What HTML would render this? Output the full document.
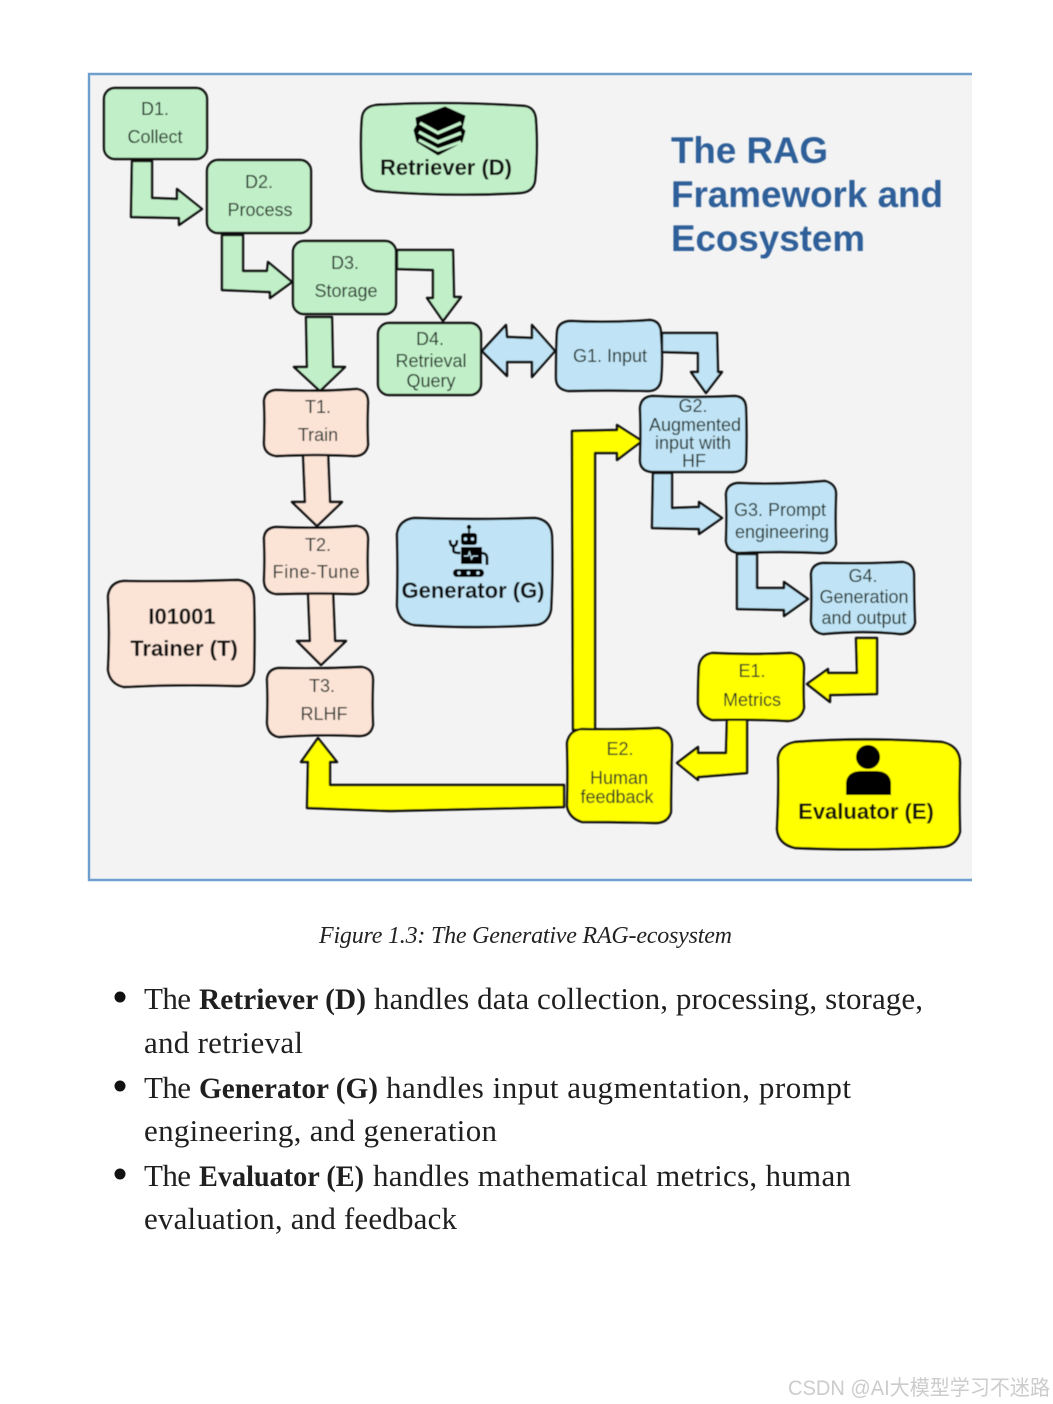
<!DOCTYPE html>
<html><head><meta charset="utf-8"><style>
html,body{margin:0;padding:0;background:#fff;width:1053px;height:1404px;overflow:hidden}
svg{display:block}
.s{font-family:"Liberation Sans",sans-serif;fill:#1c2a24;font-size:18px;text-anchor:middle}
.b{font-family:"Liberation Sans",sans-serif;fill:#0a0a0a;font-size:22px;font-weight:bold;text-anchor:middle}
.t{font-family:"Liberation Sans",sans-serif;fill:#2e5f99;font-size:37px;font-weight:bold}
.p{font-family:"Liberation Serif",serif;fill:#1f1f1f;font-size:31px}
.pb{font-family:"Liberation Serif",serif;fill:#1f1f1f;font-size:30px;font-weight:bold}
.g{fill:#c1f0c8;stroke:#111;stroke-width:2.4;stroke-linejoin:round}
.u{fill:#c0e4f5;stroke:#111;stroke-width:2.4;stroke-linejoin:round}
.r{fill:#fbe3d6;stroke:#111;stroke-width:2.4;stroke-linejoin:round}
.y{fill:#ffff00;stroke:#111;stroke-width:2.4;stroke-linejoin:round}
</style></head><body>
<svg width="1053" height="1404" viewBox="0 0 1053 1404" xmlns="http://www.w3.org/2000/svg">
<defs><filter id="f" x="-2%" y="-2%" width="104%" height="104%"><feGaussianBlur stdDeviation="0.4"/></filter></defs>
<rect x="89" y="74" width="883" height="806" fill="#f3f3f3"/>
<path d="M972 74H89V880H972" fill="none" stroke="#6f9fcc" stroke-width="2.4"/>
<g filter="url(#f)">
<!-- arrows -->
<polygon class="g" points="132,161 152,161 152,198 177,199 177,189 202,209 179,225 179,218 131,217"/>
<polygon class="g" points="222,235 243,235 243,271 267,271 268,262 292,282 270,298 270,292 222,290"/>
<polygon class="g" points="397,250 453,250 454,297 461,297 443,321 427,298 433,298 433,270 397,269"/>
<polygon class="g" points="306,317 332,317 333,367 345,367 320,391 294,367 307,367"/>
<polygon class="u" points="482,351 506,325 507,337 532,338 532,325 555,351 532,377 532,362 507,362 507,376"/>
<polygon class="u" points="662,333 717,333 718,372 722,372 706,393 691,372 698,372 698,353 662,352"/>
<polygon class="u" points="653,473 672,473 672,508 699,507 699,502 722,518 699,534 699,529 652,528"/>
<polygon class="u" points="737,554 757,554 757,588 784,588 784,582 808,599 784,616 784,610 737,609"/>
<polygon class="r" points="303,453 328,453 330,502 342,502 317,526 292,502 305,502"/>
<polygon class="r" points="308,592 333,591 335,641 346,641 321,665 297,641 310,641"/>
<polygon class="y" points="572,431 617,430 617,425 642,441 617,460 617,453 595,453 595,730 573,730"/>
<polygon class="y" points="318,738 337,762 330,762 330,785 564,785 564,807 390,811 307,808 308,762 301,762"/>
<polygon class="y" points="856,638 877,638 877,694 830,695 830,702 807,684 828,669 828,673 857,673"/>
<polygon class="y" points="727,718 747,718 747,773 698,777 698,780 677,763 698,747 698,753 726,753"/>

<!-- D boxes -->
<rect class="g" x="104" y="88" width="103" height="71" rx="11"/>
<rect class="g" x="207" y="160" width="104" height="73" rx="11"/>
<rect class="g" x="293" y="241" width="103" height="73" rx="11"/>
<rect class="g" x="378" y="323" width="103" height="72" rx="11"/>
<path class="g" d="M376 105Q450 101 525 106Q536 108 536 122Q538 150 535 181Q533 192 520 193Q450 197 376 191Q362 188 362 175Q360 140 362 118Q363 107 376 105Z"/>

<!-- G boxes -->
<path class="u" d="M570 321Q610 323 650 320Q661 321 661 334Q663 360 661 380Q659 391 648 391Q610 390 568 391Q556 389 556 378Q556 350 557 332Q558 322 570 321Z"/>
<path class="u" d="M652 396Q695 398 735 396Q746 397 746 409Q747 435 746 462Q744 472 732 472H652Q640 471 640 460Q641 430 640 408Q641 397 652 396Z"/>
<path class="u" d="M738 483Q780 485 825 481Q836 484 836 494Q835 520 836 544Q833 553 822 553Q780 551 738 553Q727 551 726 541Q727 515 726 494Q727 484 738 483Z"/>
<path class="u" d="M823 563Q865 564 903 562Q914 564 914 575Q914 600 915 623Q912 634 900 634Q865 630 823 634Q812 632 811 621Q812 595 811 574Q812 564 823 563Z"/>

<!-- T boxes -->
<path class="r" d="M276 390Q318 392 357 389Q368 391 368 402Q367 425 368 445Q366 456 354 456Q318 454 276 456Q264 454 264 443Q265 420 264 401Q265 391 276 390Z"/>
<path class="r" d="M276 527Q318 529 357 526Q368 528 368 539Q367 560 368 584Q366 594 354 594Q318 593 276 594Q264 592 264 580Q265 560 264 538Q265 528 276 527Z"/>
<path class="r" d="M279 668Q320 669 362 667Q373 669 373 680Q372 705 373 725Q371 736 359 736Q320 734 279 737Q268 735 267 723Q268 700 267 679Q268 669 279 668Z"/>
<path class="r" d="M124 581Q180 582 238 580Q253 582 254 598Q255 635 254 672Q251 686 238 686Q180 684 124 687Q110 684 108 670Q110 635 108 596Q110 582 124 581Z"/>
<path class="u" d="M414 518Q475 520 535 518Q551 520 552 536Q553 575 551 610Q548 624 535 625Q475 629 414 625Q399 622 397 606Q398 570 397 534Q399 520 414 518Z"/>

<!-- E boxes -->
<path class="y" d="M712 653Q750 655 791 653Q804 655 804 668Q803 690 804 708Q801 720 788 721Q750 719 712 720Q700 716 698 704Q698 680 699 666Q701 655 712 653Z"/>
<path class="y" d="M581 729Q620 730 659 728Q672 732 672 745Q671 780 671 812Q668 823 655 823Q620 822 582 822Q569 818 567 806Q568 775 567 743Q569 731 581 729Z"/>
<path class="y" d="M795 742Q865 737 942 742Q960 746 960 763Q959 795 960 832Q956 846 942 847Q865 851 795 848Q778 844 777 829Q779 790 778 758Q780 745 795 742Z"/>

<!-- Books icon -->
<polygon points="416,118 445,107 465,116 462,128 465,131 462,142 438,155 417,142 414,130 417,125" fill="#000" stroke="#000" stroke-width="1" stroke-linejoin="round"/>
<g fill="none" stroke="#c1f0c8" stroke-width="3.2">
<polyline points="420,123 438,133 461,123"/>
<polyline points="419,132 438,142 461,133"/>
<polyline points="419,140 438,150 461,142"/>
</g>

<!-- Robot icon -->
<g fill="#000">
<circle cx="469" cy="527" r="2.200"/><rect x="468" y="528" width="2" height="6"/>
<rect x="461" y="533" width="16" height="12" rx="3"/>
<rect x="461" y="547" width="21" height="17"/>
<rect x="453" y="569" width="31" height="8" rx="4"/>
</g>
<circle cx="465.500" cy="539" r="1.700" fill="#c0e4f5"/><circle cx="472.500" cy="539" r="1.700" fill="#c0e4f5"/>
<circle cx="459" cy="573" r="1.700" fill="#c0e4f5"/><circle cx="468.500" cy="573" r="1.700" fill="#c0e4f5"/><circle cx="478" cy="573" r="1.700" fill="#c0e4f5"/>
<path d="M464 556h4l1.500-4 2 7 1.500-3h5" fill="none" stroke="#c0e4f5" stroke-width="1.100"/>
<path d="M450 540q0 6 3.500 6v5q0 2 7 2M457 540q0 6-3.500 6M487 565v-7q0-5-6-5" fill="none" stroke="#000" stroke-width="2.600"/>

<!-- Person -->
<circle cx="868" cy="757" r="12" fill="#000"/>
<path d="M846 795V783Q847 771 862 771H875Q890 771 891 783V795Z" fill="#000"/>

<!-- Labels -->
<text class="s" x="155" y="115">D1.</text><text class="s" x="155" y="143">Collect</text>
<text class="s" x="259" y="188">D2.</text><text class="s" x="260" y="216">Process</text>
<text class="s" x="345" y="269">D3.</text><text class="s" x="346" y="297">Storage</text>
<text class="s" x="430" y="345">D4.</text><text class="s" x="431" y="367">Retrieval</text><text class="s" x="431" y="387">Query</text>
<text class="s" x="318" y="413">T1.</text><text class="s" x="318" y="441">Train</text>
<text class="s" x="318" y="551">T2.</text><text class="s" x="316" y="578" textLength="87" lengthAdjust="spacing">Fine-Tune</text>
<text class="s" x="322" y="692">T3.</text><text class="s" x="324" y="720">RLHF</text>
<text class="s" x="610" y="362">G1. Input</text>
<text class="s" x="693" y="412">G2.</text><text class="s" x="695" y="431">Augmented</text><text class="s" x="693" y="449">input with</text><text class="s" x="694" y="467">HF</text>
<text class="s" x="780" y="516">G3. Prompt</text><text class="s" x="782" y="538">engineering</text>
<text class="s" x="863" y="582">G4.</text><text class="s" x="864" y="603">Generation</text><text class="s" x="864" y="624">and output</text>
<text class="s" x="752" y="677">E1.</text><text class="s" x="752" y="706">Metrics</text>
<text class="s" x="620" y="755">E2.</text><text class="s" x="619" y="784">Human</text><text class="s" x="617" y="803">feedback</text>

<text class="b" x="446" y="175">Retriever (D)</text>
<text class="b" x="473" y="598">Generator (G)</text>
<text class="b" x="182" y="624">I01001</text>
<text class="b" x="184" y="656">Trainer (T)</text>
<text class="b" x="866" y="819">Evaluator (E)</text>

<text class="t" x="671" y="163" textLength="157" lengthAdjust="spacingAndGlyphs">The RAG</text>
<text class="t" x="671" y="207" textLength="272" lengthAdjust="spacingAndGlyphs">Framework and</text>
<text class="t" x="671" y="251" textLength="194" lengthAdjust="spacingAndGlyphs">Ecosystem</text>
</g>

<text x="319" y="943" font-family="'Liberation Serif',serif" font-style="italic" font-size="24" fill="#222" textLength="413" lengthAdjust="spacing">Figure 1.3: The Generative RAG-ecosystem</text>

<circle cx="120" cy="997" r="5.500" fill="#111"/>
<circle cx="120" cy="1086" r="5.500" fill="#111"/>
<circle cx="120" cy="1174" r="5.500" fill="#111"/>

<text class="p" x="144" y="1009" textLength="47" lengthAdjust="spacing">The</text>
<text class="pb" x="199" y="1009" textLength="167" lengthAdjust="spacingAndGlyphs">Retriever (D)</text>
<text class="p" x="374" y="1009" textLength="549" lengthAdjust="spacing">handles data collection, processing, storage,</text>
<text class="p" x="144" y="1053" textLength="159" lengthAdjust="spacing">and retrieval</text>

<text class="p" x="144" y="1098" textLength="47" lengthAdjust="spacing">The</text>
<text class="pb" x="199" y="1098" textLength="179" lengthAdjust="spacingAndGlyphs">Generator (G)</text>
<text class="p" x="386" y="1098" textLength="465" lengthAdjust="spacing">handles input augmentation, prompt</text>
<text class="p" x="144" y="1141" textLength="353" lengthAdjust="spacing">engineering, and generation</text>

<text class="p" x="144" y="1186" textLength="47" lengthAdjust="spacing">The</text>
<text class="pb" x="199" y="1186" textLength="165" lengthAdjust="spacingAndGlyphs">Evaluator (E)</text>
<text class="p" x="373" y="1186" textLength="478" lengthAdjust="spacing">handles mathematical metrics, human</text>
<text class="p" x="144" y="1229" textLength="313" lengthAdjust="spacing">evaluation, and feedback</text>

<text x="788" y="1395" font-family="'Liberation Sans','Noto Sans CJK SC',sans-serif" font-size="21" fill="#cccccc" textLength="262" lengthAdjust="spacingAndGlyphs">CSDN @AI大模型学习不迷路</text>
</svg>
</body></html>
